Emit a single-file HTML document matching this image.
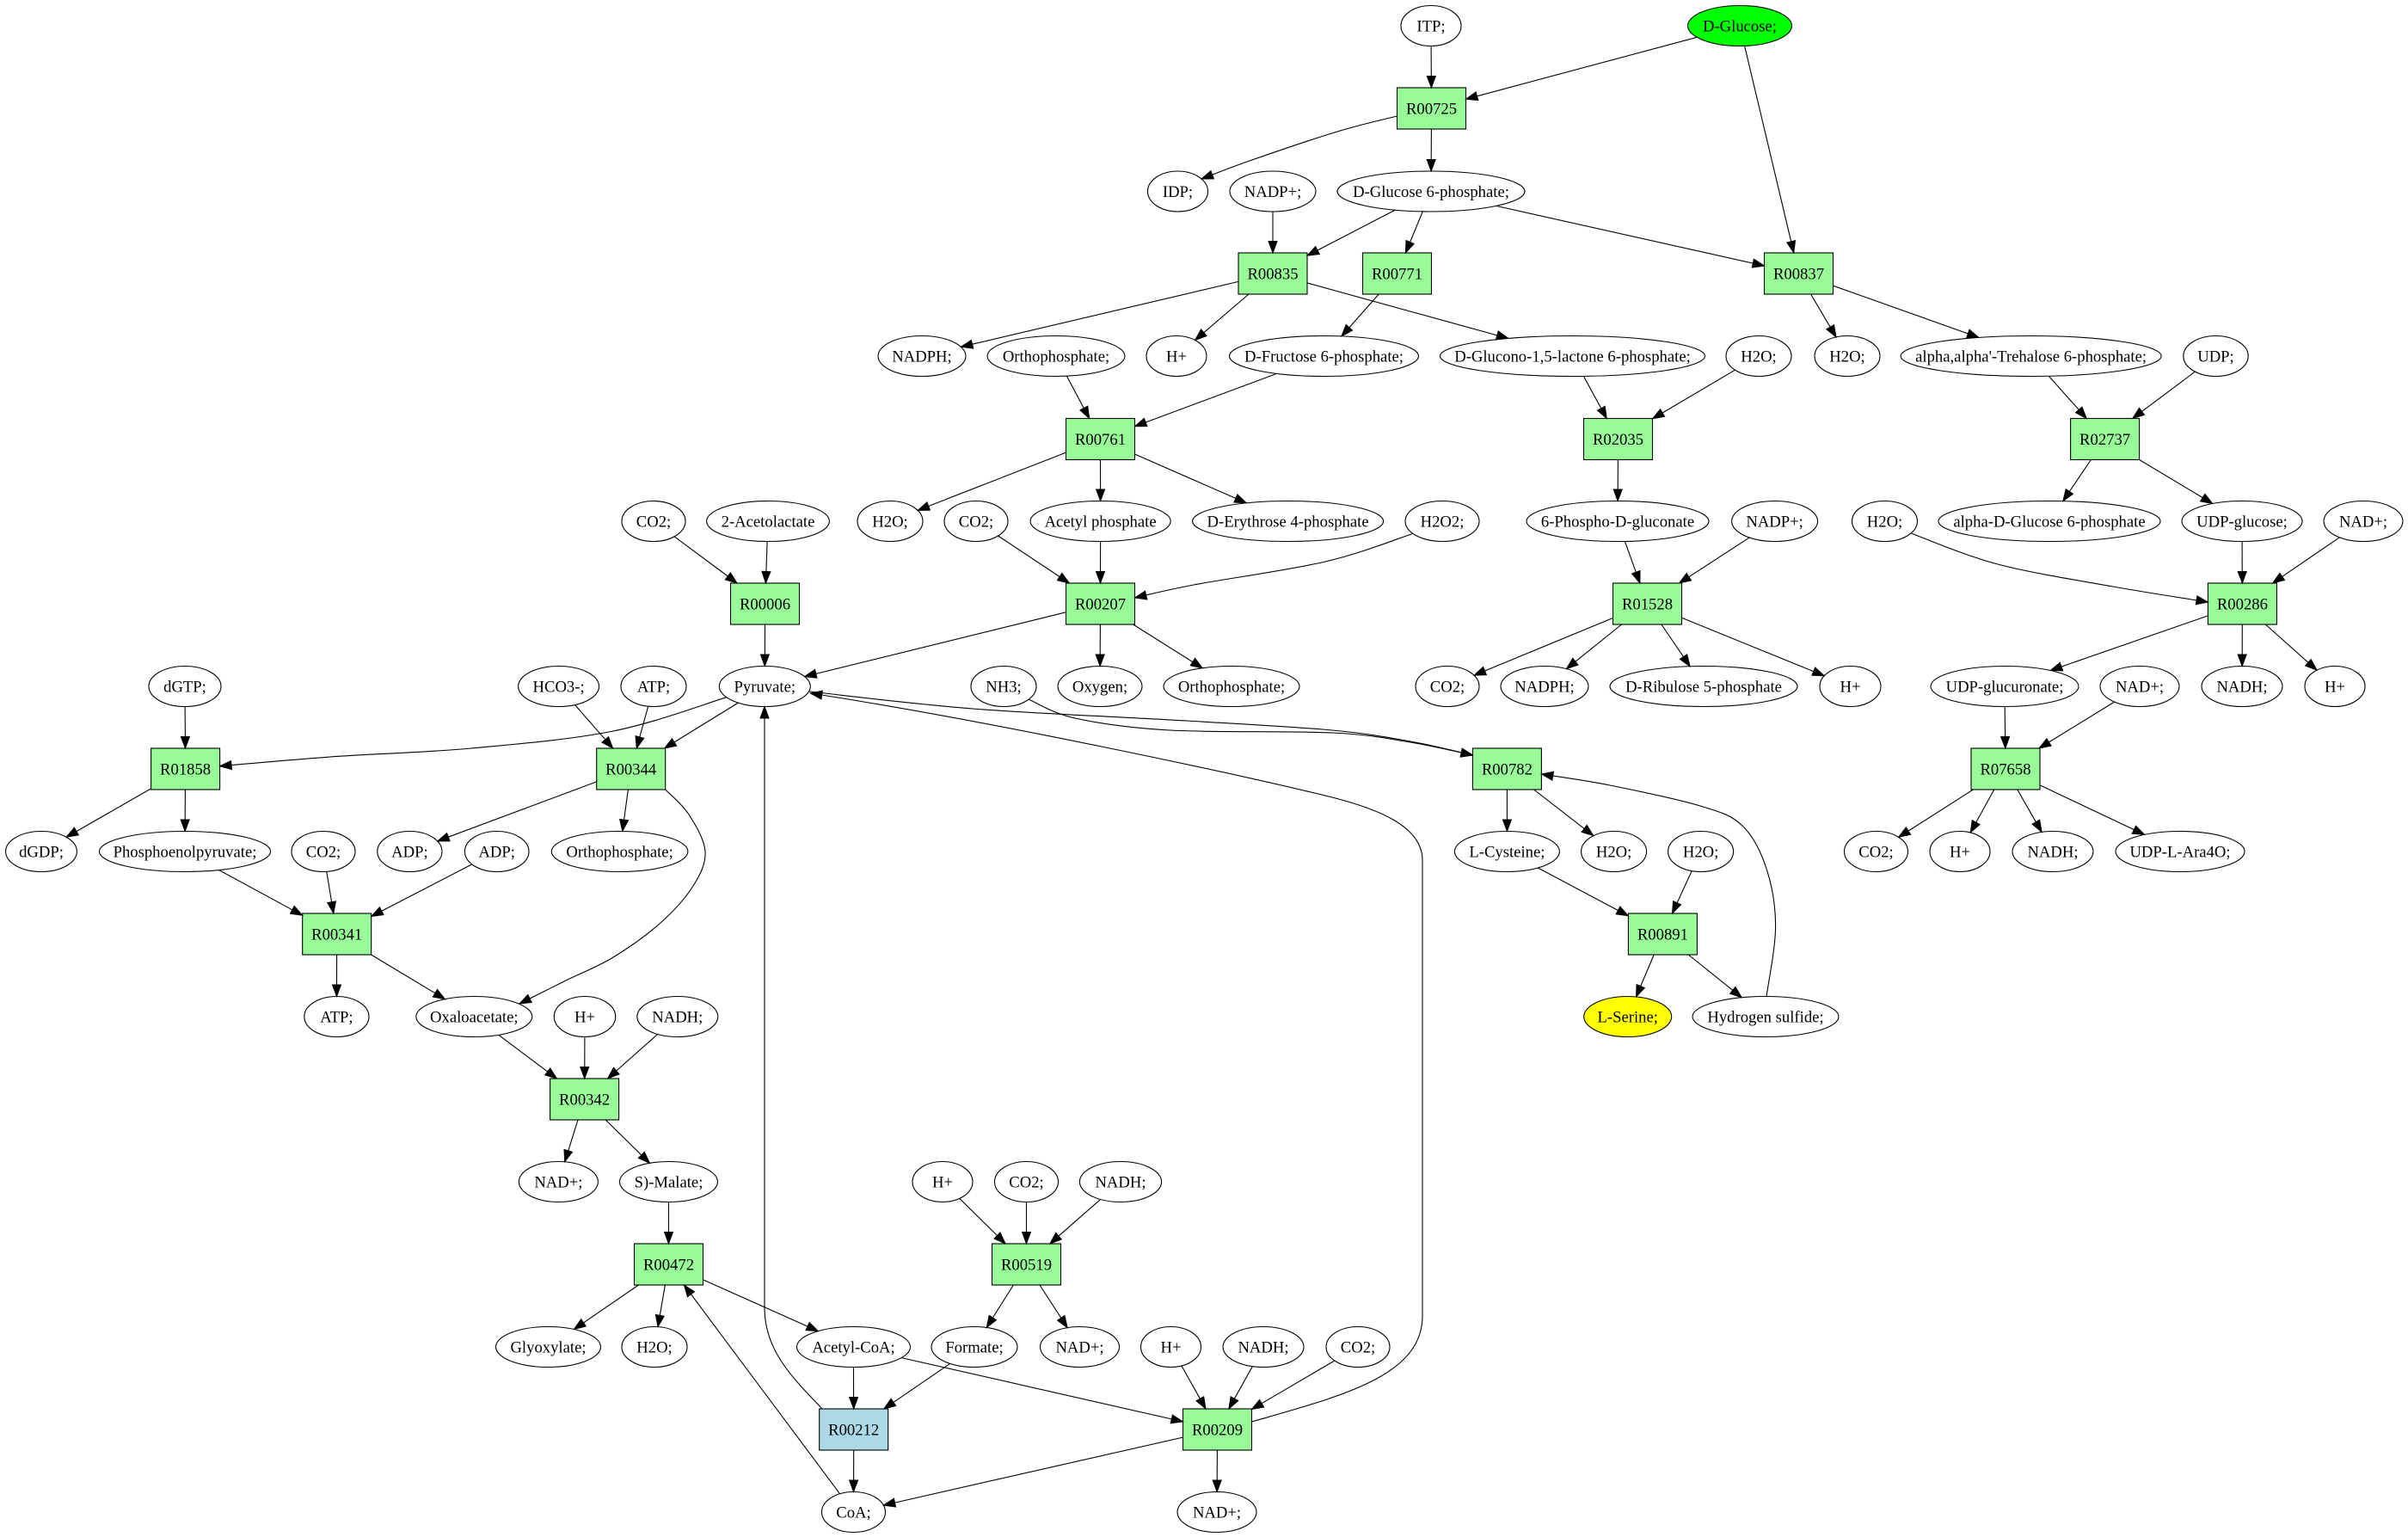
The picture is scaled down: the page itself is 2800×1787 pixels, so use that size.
<!DOCTYPE html>
<html><head><meta charset="utf-8">
<style>
html,body{margin:0;padding:0;background:#fff;}
svg{display:block;}
ellipse{fill:#fff;stroke:#000;stroke-width:1.1;}
rect{fill:#98fb98;stroke:#000;stroke-width:1.1;}
text{font-family:"Liberation Serif","Times New Roman",serif;font-size:18.67px;text-anchor:middle;fill:#000;}
#edges path{fill:none;stroke:#000;stroke-width:1.1;}
#edges polygon{fill:#000;stroke:#000;stroke-width:1;}
</style></head>
<body>
<svg id="g" xmlns="http://www.w3.org/2000/svg" width="2800" height="1787" viewBox="0 0 2800 1787">
<rect x="0" y="0" width="2800" height="1787" style="fill:#fff;stroke:none"/>
<g id="nodes">
<ellipse id="e_itp" cx="1664" cy="30" rx="35" ry="23.5"/><text x="1664" y="36.5">ITP;</text>
<ellipse id="e_glc" cx="2023" cy="30" rx="60.5" ry="23.5" style="fill:#00ff00"/><text x="2023" y="36.5">D-Glucose;</text>
<rect id="r_00725" x="1624.5" y="102" width="80" height="48"/><text x="1664.5" y="132.5">R00725</text>
<ellipse id="e_idp" cx="1369.5" cy="222.5" rx="35" ry="23.5"/><text x="1369.5" y="229">IDP;</text>
<ellipse id="e_nadp1" cx="1480" cy="222.5" rx="50" ry="23.5"/><text x="1480" y="229">NADP+;</text>
<ellipse id="e_g6p" cx="1664" cy="222.5" rx="109" ry="23.5"/><text x="1664" y="229">D-Glucose 6-phosphate;</text>
<rect id="r_00835" x="1440" y="294" width="80" height="48"/><text x="1480" y="324.5">R00835</text>
<rect id="r_00771" x="1584.5" y="294" width="80" height="48"/><text x="1624.5" y="324.5">R00771</text>
<rect id="r_00837" x="2051.5" y="294" width="80" height="48"/><text x="2091.5" y="324.5">R00837</text>
<ellipse id="e_nadph1" cx="1072" cy="414" rx="51" ry="23.5"/><text x="1072" y="420.5">NADPH;</text>
<ellipse id="e_pi1" cx="1228" cy="414" rx="80" ry="23.5"/><text x="1228" y="420.5">Orthophosphate;</text>
<ellipse id="e_h1" cx="1368" cy="414" rx="35" ry="23.5"/><text x="1368" y="420.5">H+</text>
<ellipse id="e_f6p" cx="1539.5" cy="414" rx="110" ry="23.5"/><text x="1539.5" y="420.5">D-Fructose 6-phosphate;</text>
<ellipse id="e_glcn" cx="1828.5" cy="414" rx="154" ry="23.5"/><text x="1828.5" y="420.5">D-Glucono-1,5-lactone 6-phosphate;</text>
<ellipse id="e_h2o1" cx="2045" cy="414" rx="38" ry="23.5"/><text x="2045" y="420.5">H2O;</text>
<ellipse id="e_h2o2" cx="2148" cy="414" rx="38" ry="23.5"/><text x="2148" y="420.5">H2O;</text>
<ellipse id="e_tre" cx="2361.6" cy="414" rx="151.5" ry="23.5"/><text x="2361.6" y="420.5">alpha,alpha'-Trehalose 6-phosphate;</text>
<ellipse id="e_udp" cx="2576.5" cy="414" rx="37.7" ry="23.5"/><text x="2576.5" y="420.5">UDP;</text>
<rect id="r_00761" x="1239.5" y="486.5" width="80" height="48"/><text x="1279.5" y="517">R00761</text>
<rect id="r_02035" x="1841.5" y="486.5" width="80" height="48"/><text x="1881.5" y="517">R02035</text>
<rect id="r_02737" x="2407.6" y="486.5" width="80" height="48"/><text x="2447.6" y="517">R02737</text>
<ellipse id="e_co2a" cx="760" cy="606" rx="37" ry="23.5"/><text x="760" y="612.5">CO2;</text>
<ellipse id="e_acl" cx="893" cy="606" rx="71.4" ry="23.5"/><text x="893" y="612.5">2-Acetolactate</text>
<ellipse id="e_h2o3" cx="1035" cy="606" rx="38" ry="23.5"/><text x="1035" y="612.5">H2O;</text>
<ellipse id="e_co2b" cx="1135" cy="606" rx="37" ry="23.5"/><text x="1135" y="612.5">CO2;</text>
<ellipse id="e_acp" cx="1279.6" cy="606" rx="81.6" ry="23.5"/><text x="1279.6" y="612.5">Acetyl phosphate</text>
<ellipse id="e_e4p" cx="1497.6" cy="606" rx="111" ry="23.5"/><text x="1497.6" y="612.5">D-Erythrose 4-phosphate</text>
<ellipse id="e_h2o2x" cx="1677" cy="606" rx="43" ry="23.5"/><text x="1677" y="612.5">H2O2;</text>
<ellipse id="e_6pg" cx="1881" cy="606" rx="106" ry="23.5"/><text x="1881" y="612.5">6-Phospho-D-gluconate</text>
<ellipse id="e_nadp2" cx="2063.6" cy="606" rx="50" ry="23.5"/><text x="2063.6" y="612.5">NADP+;</text>
<ellipse id="e_h2o4" cx="2191.5" cy="606" rx="38" ry="23.5"/><text x="2191.5" y="612.5">H2O;</text>
<ellipse id="e_adg6p" cx="2383" cy="606" rx="129" ry="23.5"/><text x="2383" y="612.5">alpha-D-Glucose 6-phosphate</text>
<ellipse id="e_udpg" cx="2607" cy="606" rx="70" ry="23.5"/><text x="2607" y="612.5">UDP-glucose;</text>
<ellipse id="e_nad1" cx="2748" cy="606" rx="46" ry="23.5"/><text x="2748" y="612.5">NAD+;</text>
<rect id="r_00006" x="849.5" y="678" width="80" height="48"/><text x="889.5" y="708.5">R00006</text>
<rect id="r_00207" x="1239.5" y="678" width="80" height="48"/><text x="1279.5" y="708.5">R00207</text>
<rect id="r_01528" x="1875.5" y="678" width="80" height="48"/><text x="1915.5" y="708.5">R01528</text>
<rect id="r_00286" x="2567.4" y="678" width="80" height="48"/><text x="2607.4" y="708.5">R00286</text>
<ellipse id="e_dgtp" cx="215" cy="798" rx="42" ry="23.5"/><text x="215" y="804.5">dGTP;</text>
<ellipse id="e_hco3" cx="649.6" cy="798" rx="47" ry="23.5"/><text x="649.6" y="804.5">HCO3-;</text>
<ellipse id="e_atp1" cx="760" cy="798" rx="38" ry="23.5"/><text x="760" y="804.5">ATP;</text>
<ellipse id="e_pyr" cx="889.3" cy="798" rx="53" ry="23.5"/><text x="889.3" y="804.5">Pyruvate;</text>
<ellipse id="e_nh3" cx="1167" cy="798" rx="38" ry="23.5"/><text x="1167" y="804.5">NH3;</text>
<ellipse id="e_o2" cx="1279" cy="798" rx="49" ry="23.5"/><text x="1279" y="804.5">Oxygen;</text>
<ellipse id="e_pi2" cx="1432" cy="798" rx="79" ry="23.5"/><text x="1432" y="804.5">Orthophosphate;</text>
<ellipse id="e_co2c" cx="1683" cy="798" rx="37" ry="23.5"/><text x="1683" y="804.5">CO2;</text>
<ellipse id="e_nadph2" cx="1796" cy="798" rx="51" ry="23.5"/><text x="1796" y="804.5">NADPH;</text>
<ellipse id="e_ru5p" cx="1981" cy="798" rx="109" ry="23.5"/><text x="1981" y="804.5">D-Ribulose 5-phosphate</text>
<ellipse id="e_h2" cx="2151.5" cy="798" rx="35.5" ry="23.5"/><text x="2151.5" y="804.5">H+</text>
<ellipse id="e_udpgla" cx="2331" cy="798" rx="86" ry="23.5"/><text x="2331" y="804.5">UDP-glucuronate;</text>
<ellipse id="e_nad2" cx="2488" cy="798" rx="46" ry="23.5"/><text x="2488" y="804.5">NAD+;</text>
<ellipse id="e_nadh1" cx="2607" cy="798" rx="47" ry="23.5"/><text x="2607" y="804.5">NADH;</text>
<ellipse id="e_h3" cx="2715" cy="798" rx="35" ry="23.5"/><text x="2715" y="804.5">H+</text>
<rect id="r_01858" x="175.6" y="870" width="80" height="48"/><text x="215.6" y="900.5">R01858</text>
<rect id="r_00344" x="693.7" y="870" width="80" height="48"/><text x="733.7" y="900.5">R00344</text>
<rect id="r_00782" x="1712.4" y="870" width="80" height="48"/><text x="1752.4" y="900.5">R00782</text>
<rect id="r_07658" x="2292" y="870" width="80" height="48"/><text x="2332" y="900.5">R07658</text>
<ellipse id="e_dgdp" cx="48" cy="990" rx="41.4" ry="23.5"/><text x="48" y="996.5">dGDP;</text>
<ellipse id="e_pep" cx="215" cy="990" rx="99.6" ry="23.5"/><text x="215" y="996.5">Phosphoenolpyruvate;</text>
<ellipse id="e_co2d" cx="376" cy="990" rx="37" ry="23.5"/><text x="376" y="996.5">CO2;</text>
<ellipse id="e_adp1" cx="476.4" cy="990" rx="37.6" ry="23.5"/><text x="476.4" y="996.5">ADP;</text>
<ellipse id="e_adp2" cx="577.7" cy="990" rx="37.3" ry="23.5"/><text x="577.7" y="996.5">ADP;</text>
<ellipse id="e_pi3" cx="720.6" cy="990" rx="79.3" ry="23.5"/><text x="720.6" y="996.5">Orthophosphate;</text>
<ellipse id="e_cys" cx="1752.4" cy="990" rx="61" ry="23.5"/><text x="1752.4" y="996.5">L-Cysteine;</text>
<ellipse id="e_h2o5" cx="1876.6" cy="990" rx="38" ry="23.5"/><text x="1876.6" y="996.5">H2O;</text>
<ellipse id="e_h2o6" cx="1977.6" cy="990" rx="38" ry="23.5"/><text x="1977.6" y="996.5">H2O;</text>
<ellipse id="e_co2e" cx="2181.5" cy="990" rx="37" ry="23.5"/><text x="2181.5" y="996.5">CO2;</text>
<ellipse id="e_h4" cx="2279" cy="990" rx="35" ry="23.5"/><text x="2279" y="996.5">H+</text>
<ellipse id="e_nadh2" cx="2387" cy="990" rx="47" ry="23.5"/><text x="2387" y="996.5">NADH;</text>
<ellipse id="e_ara" cx="2535" cy="990" rx="75" ry="23.5"/><text x="2535" y="996.5">UDP-L-Ara4O;</text>
<rect id="r_00341" x="351.7" y="1062" width="80" height="48"/><text x="391.7" y="1092.5">R00341</text>
<rect id="r_00891" x="1893.4" y="1062" width="80" height="48"/><text x="1933.4" y="1092.5">R00891</text>
<ellipse id="e_atp2" cx="391.4" cy="1182" rx="37.6" ry="23.5"/><text x="391.4" y="1188.5">ATP;</text>
<ellipse id="e_oaa" cx="551.3" cy="1182" rx="67.5" ry="23.5"/><text x="551.3" y="1188.5">Oxaloacetate;</text>
<ellipse id="e_h5" cx="680" cy="1182" rx="35.7" ry="23.5"/><text x="680" y="1188.5">H+</text>
<ellipse id="e_nadh3" cx="787.8" cy="1182" rx="47" ry="23.5"/><text x="787.8" y="1188.5">NADH;</text>
<ellipse id="e_ser" cx="1892.7" cy="1182" rx="51" ry="23.5" style="fill:#ffff00"/><text x="1892.7" y="1188.5">L-Serine;</text>
<ellipse id="e_h2s" cx="2053" cy="1182" rx="85" ry="23.5"/><text x="2053" y="1188.5">Hydrogen sulfide;</text>
<rect id="r_00342" x="639.6" y="1254" width="80" height="48"/><text x="679.6" y="1284.5">R00342</text>
<ellipse id="e_nad3" cx="649.4" cy="1374" rx="46" ry="23.5"/><text x="649.4" y="1380.5">NAD+;</text>
<ellipse id="e_mal" cx="777.5" cy="1374" rx="57" ry="23.5"/><text x="777.5" y="1380.5">S)-Malate;</text>
<ellipse id="e_h6" cx="1096" cy="1374" rx="35" ry="23.5"/><text x="1096" y="1380.5">H+</text>
<ellipse id="e_co2f" cx="1193.5" cy="1374" rx="37" ry="23.5"/><text x="1193.5" y="1380.5">CO2;</text>
<ellipse id="e_nadh4" cx="1303" cy="1374" rx="47.6" ry="23.5"/><text x="1303" y="1380.5">NADH;</text>
<rect id="r_00472" x="737.5" y="1446" width="80" height="48"/><text x="777.5" y="1476.5">R00472</text>
<rect id="r_00519" x="1153.5" y="1446" width="80" height="48"/><text x="1193.5" y="1476.5">R00519</text>
<ellipse id="e_glx" cx="637.5" cy="1566" rx="61" ry="23.5"/><text x="637.5" y="1572.5">Glyoxylate;</text>
<ellipse id="e_h2o7" cx="761" cy="1566" rx="38" ry="23.5"/><text x="761" y="1572.5">H2O;</text>
<ellipse id="e_accoa" cx="992.5" cy="1566" rx="66" ry="23.5"/><text x="992.5" y="1572.5">Acetyl-CoA;</text>
<ellipse id="e_for" cx="1133" cy="1566" rx="50" ry="23.5"/><text x="1133" y="1572.5">Formate;</text>
<ellipse id="e_nad4" cx="1255.5" cy="1566" rx="46" ry="23.5"/><text x="1255.5" y="1572.5">NAD+;</text>
<ellipse id="e_h7" cx="1361.5" cy="1566" rx="35" ry="23.5"/><text x="1361.5" y="1572.5">H+</text>
<ellipse id="e_nadh5" cx="1469" cy="1566" rx="47" ry="23.5"/><text x="1469" y="1572.5">NADH;</text>
<ellipse id="e_co2g" cx="1579" cy="1566" rx="37" ry="23.5"/><text x="1579" y="1572.5">CO2;</text>
<rect id="r_00212" x="952.7" y="1638" width="80" height="48" style="fill:#add8e6"/><text x="992.7" y="1668.5">R00212</text>
<rect id="r_00209" x="1375.5" y="1638" width="80" height="48"/><text x="1415.5" y="1668.5">R00209</text>
<ellipse id="e_coa" cx="992.5" cy="1758" rx="37" ry="23.5"/><text x="992.5" y="1764.5">CoA;</text>
<ellipse id="e_nad5" cx="1415" cy="1758" rx="46" ry="23.5"/><text x="1415" y="1764.5">NAD+;</text>
</g>
<g id="edges"></g>
</svg>
<script>
(function(){
function geo(id){
  var el=document.getElementById(id);
  if(el.tagName.toLowerCase()==='rect'){
    var x=+el.getAttribute('x'),y=+el.getAttribute('y'),w=+el.getAttribute('width'),h=+el.getAttribute('height');
    return {box:true,cx:x+w/2,cy:y+h/2,hw:w/2,hh:h/2};
  }
  return {box:false,cx:+el.getAttribute('cx'),cy:+el.getAttribute('cy'),rx:+el.getAttribute('rx'),ry:+el.getAttribute('ry')};
}
function clip(g,dx,dy){
  var t;
  if(g.box){
    t=Math.min(dx?g.hw/Math.abs(dx):1e9, dy?g.hh/Math.abs(dy):1e9);
  } else {
    t=1/Math.sqrt(Math.pow(dx/g.rx,2)+Math.pow(dy/g.ry,2));
  }
  return [g.cx+dx*t,g.cy+dy*t];
}
var LEN=13.5, HW=5;
function arrow(tip,from){
  var dx=tip[0]-from[0],dy=tip[1]-from[1],L=Math.sqrt(dx*dx+dy*dy);
  var ux=dx/L,uy=dy/L;
  var bx=tip[0]-ux*LEN,by=tip[1]-uy*LEN;
  return {poly:'<polygon points="'+tip[0].toFixed(1)+','+tip[1].toFixed(1)+' '+(bx-uy*HW).toFixed(1)+','+(by+ux*HW).toFixed(1)+' '+(bx+uy*HW).toFixed(1)+','+(by-ux*HW).toFixed(1)+'"/>',base:[bx,by]};
}
var out='';
var straight=[
["e_itp","r_00725"],["e_glc","r_00725"],["e_glc","r_00837"],["r_00725","e_g6p"],["e_nadp1","r_00835"],["e_g6p","r_00835"],["e_g6p","r_00771"],["e_g6p","r_00837"],["r_00835","e_nadph1"],["r_00835","e_h1"],["r_00835","e_glcn"],["r_00771","e_f6p"],["r_00837","e_h2o2"],["r_00837","e_tre"],["e_pi1","r_00761"],["e_f6p","r_00761"],["r_00761","e_h2o3"],["r_00761","e_acp"],["r_00761","e_e4p"],["e_glcn","r_02035"],["e_h2o1","r_02035"],["r_02035","e_6pg"],["e_tre","r_02737"],["e_udp","r_02737"],["r_02737","e_adg6p"],["r_02737","e_udpg"],["e_co2a","r_00006"],["e_acl","r_00006"],["r_00006","e_pyr"],["e_co2b","r_00207"],["e_acp","r_00207"],["r_00207","e_pyr"],["r_00207","e_o2"],["r_00207","e_pi2"],["e_6pg","r_01528"],["e_nadp2","r_01528"],["r_01528","e_co2c"],["r_01528","e_nadph2"],["r_01528","e_ru5p"],["r_01528","e_h2"],["e_udpg","r_00286"],["e_nad1","r_00286"],["r_00286","e_udpgla"],["r_00286","e_nadh1"],["r_00286","e_h3"],["e_dgtp","r_01858"],["e_hco3","r_00344"],["e_atp1","r_00344"],["e_pyr","r_00344"],["e_udpgla","r_07658"],["e_nad2","r_07658"],["r_01858","e_dgdp"],["r_01858","e_pep"],["r_00344","e_adp1"],["r_00344","e_pi3"],["r_00782","e_cys"],["r_00782","e_h2o5"],["r_07658","e_co2e"],["r_07658","e_h4"],["r_07658","e_nadh2"],["r_07658","e_ara"],["e_pep","r_00341"],["e_co2d","r_00341"],["e_adp2","r_00341"],["r_00341","e_atp2"],["r_00341","e_oaa"],["e_cys","r_00891"],["e_h2o6","r_00891"],["r_00891","e_ser"],["r_00891","e_h2s"],["e_oaa","r_00342"],["e_h5","r_00342"],["e_nadh3","r_00342"],["r_00342","e_nad3"],["r_00342","e_mal"],["e_mal","r_00472"],["r_00472","e_glx"],["r_00472","e_h2o7"],["r_00472","e_accoa"],["e_coa","r_00472"],["e_h6","r_00519"],["e_co2f","r_00519"],["e_nadh4","r_00519"],["r_00519","e_for"],["r_00519","e_nad4"],["e_accoa","r_00212"],["e_for","r_00212"],["e_accoa","r_00209"],["e_h7","r_00209"],["e_nadh5","r_00209"],["e_co2g","r_00209"],["r_00212","e_coa"],["r_00209","e_coa"],["r_00209","e_nad5"]
];
straight.forEach(function(e){
  var a=geo(e[0]),b=geo(e[1]);
  var p0=clip(a,b.cx-a.cx,b.cy-a.cy);
  var p1=clip(b,a.cx-b.cx,a.cy-b.cy);
  var ar=arrow(p1,p0);
  out+='<path d="M'+p0[0].toFixed(1)+','+p0[1].toFixed(1)+' L'+ar.base[0].toFixed(1)+','+ar.base[1].toFixed(1)+'"/>'+ar.poly;
});
var curves=[
 [[844.7,810.7],[713,850],[548,870],[384,880],[255.6,890.7]],
 [[941,804],[1131,824],[1380,838],[1549,849],[1640,862],[1712.4,878]],
 [[1196,813],[1250,835],[1360,849],[1549,852],[1640,863],[1712.4,878]],
 [[773.7,918],[801,947],[820,990],[806,1030],[768,1073],[713,1113],[658,1140],[604,1167]],
 [[2054,1158.5],[2064.6,1077],[2054,1010],[2026,960],[1977,937],[1872,913],[1792.4,900]],
 [[1643,620.4],[1541,653],[1388,680],[1319.5,695]],
 [[1624.5,135],[1555,153],[1453,187],[1397,208]],
 [[2222,620],[2323,656],[2457,682],[2567.4,700]]
];
curves.forEach(function(p){
  var n=p.length;
  var d='M'+p[0][0]+','+p[0][1];
  for(var i=0;i<n-1;i++){
    var q0=p[i-1]||p[i],q1=p[i],q2=p[i+1],q3=p[i+2]||p[i+1];
    var c1=[q1[0]+(q2[0]-q0[0])/6,q1[1]+(q2[1]-q0[1])/6];
    var c2=[q2[0]-(q3[0]-q1[0])/6,q2[1]-(q3[1]-q1[1])/6];
    d+=' C'+c1[0].toFixed(1)+','+c1[1].toFixed(1)+' '+c2[0].toFixed(1)+','+c2[1].toFixed(1)+' '+q2[0]+','+q2[1];
  }
  var ar=arrow(p[n-1],p[n-2]);
  out+='<path d="'+d+'"/>'+ar.poly;
});
/* explicit paths with straight vertical runs */
var explicit=[
 {d:'M1455.5,1653 C1560,1623 1654,1600 1654,1530 L1654,1000 C1654,960 1600,940 1549,927 C1430,898 1150,838 942.3,806',tip:[942.3,806],from:[1150,838]},
 {d:'M956,1638 C920,1600 889,1570 889,1520 L889,821.5',tip:[889,821.5],from:[889,900]}
];
explicit.forEach(function(e){
  var ar=arrow(e.tip,e.from);
  out+='<path d="'+e.d+'"/>'+ar.poly;
});
document.getElementById('edges').innerHTML=out;
})();
</script>
</body></html>
